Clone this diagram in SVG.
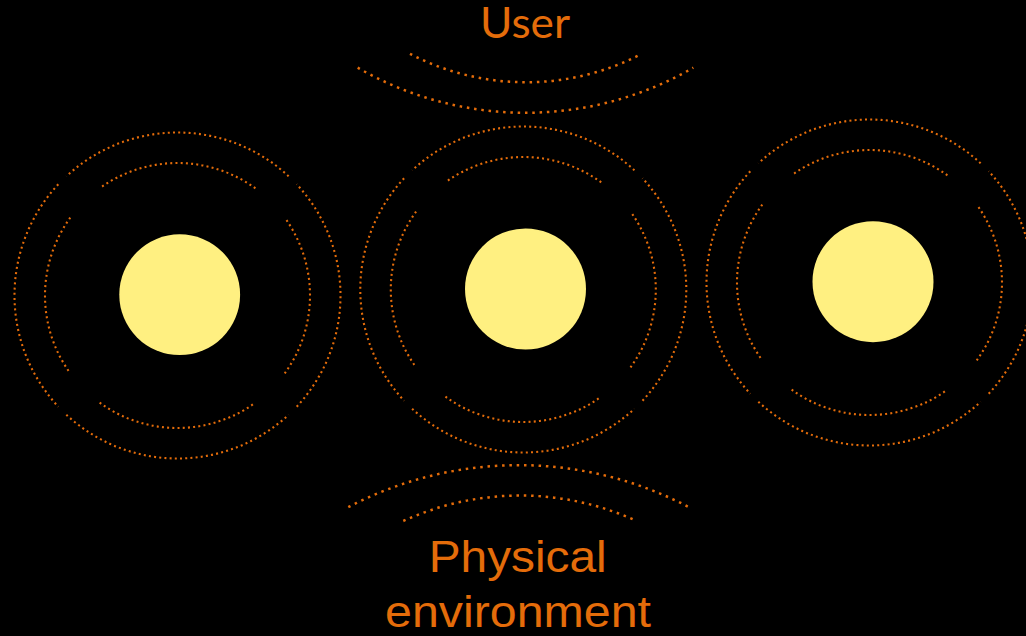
<svg xmlns="http://www.w3.org/2000/svg" xmlns:xlink="http://www.w3.org/1999/xlink" width="1026" height="636" viewBox="0 0 1026 636">
  <style>
    .ring { fill: none; stroke: #E46C0A; stroke-width: 2.1; stroke-dasharray: 2 3.2; }
    .wave { fill: none; stroke: #E46C0A; stroke-width: 2.5; stroke-dasharray: 2.5 4.8; }
    .core { fill: #FFF081; }
    .lbl { fill: #E46C0A; }
  </style>
  <defs>
    <g id="rings">
      <!-- inner ring: four arcs of 72 degrees -->
      <path class="ring" d="M 77.88 -107.2 A 132.5 132.5 0 0 0 -77.88 -107.2"/>
      <path class="ring" d="M -107.2 -77.88 A 132.5 132.5 0 0 0 -107.2 77.88"/>
      <path class="ring" d="M -77.88 107.2 A 132.5 132.5 0 0 0 77.88 107.2"/>
      <path class="ring" d="M 107.2 77.88 A 132.5 132.5 0 0 0 107.2 -77.88"/>
      <!-- outer ring: four arcs of 86 degrees -->
      <path class="ring" d="M 111.17 -119.21 A 163 163 0 0 0 -111.17 -119.21"/>
      <path class="ring" d="M -119.21 -111.17 A 163 163 0 0 0 -119.21 111.17"/>
      <path class="ring" d="M -111.17 119.21 A 163 163 0 0 0 111.17 119.21"/>
      <path class="ring" d="M 119.21 111.17 A 163 163 0 0 0 119.21 -111.17"/>
    </g>
  </defs>
  <rect x="0" y="0" width="1026" height="636" fill="#000000"/>

  <g id="node-left">
    <use xlink:href="#rings" href="#rings" transform="translate(177.5 295.5)"/>
    <circle class="core" cx="179.7" cy="294.7" r="60.4"/>
  </g>
  <g id="node-middle">
    <use xlink:href="#rings" href="#rings" transform="translate(523.3 289.5)"/>
    <circle class="core" cx="525.5" cy="289" r="60.5"/>
  </g>
  <g id="node-right">
    <use xlink:href="#rings" href="#rings" transform="translate(869.5 282.5)"/>
    <circle class="core" cx="873" cy="281.7" r="60.5"/>
  </g>

  <g id="node-user">
    <text class="lbl" x="525" y="37.5" font-family="Lato, 'Open Sans', sans-serif" font-size="42" text-anchor="middle" textLength="90" lengthAdjust="spacingAndGlyphs">User</text>
  </g>
  <g id="node-physical">
    <text class="lbl" font-family="'Liberation Sans', Arial, sans-serif" font-size="45" text-anchor="middle">
      <tspan x="524" y="571.7" textLength="178" lengthAdjust="spacingAndGlyphs">Physical</tspan>
      <tspan x="518" y="626.5" textLength="266" lengthAdjust="spacingAndGlyphs">environment</tspan>
    </text>
  </g>

  <g id="connectors">
    <!-- waves under "User" -->
    <path class="wave" d="M 410 53.8 A 250 250 0 0 0 641.7 53.8"/>
    <path class="wave" d="M 357.7 67.7 A 335 335 0 0 0 693.3 67.7"/>
    <!-- waves above "Physical environment" -->
    <path class="wave" d="M 348.3 507.2 A 366 366 0 0 1 689 507.2"/>
    <path class="wave" d="M 403.3 521 A 280 280 0 0 1 636.7 521"/>
  </g>
</svg>
